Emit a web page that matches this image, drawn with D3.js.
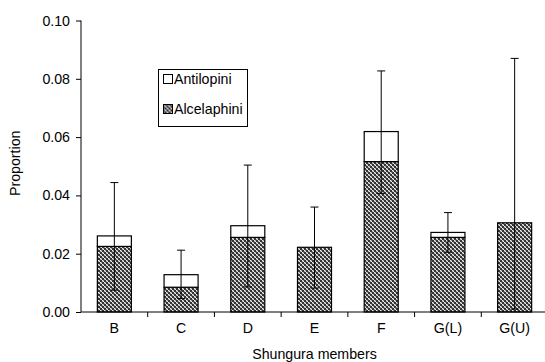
<!DOCTYPE html>
<html>
<head>
<meta charset="utf-8">
<script src="https://cdn.jsdelivr.net/npm/d3@7"></script>
<style>
  html, body { margin: 0; padding: 0; background: #fff; }
  svg { display: block; font-family: Arial, "Liberation Sans", sans-serif; }
</style>
</head>
<body>
<svg id="chart" width="545" height="362"></svg>
<script>
// Shungura members and proportions per tribe
const categories = ["B", "C", "D", "E", "F", "G(L)", "G(U)"];
const alcelaphini = [0.0225, 0.0085, 0.0256, 0.0222, 0.0516, 0.0256, 0.0306];
const antilopini = [0.0036, 0.0043, 0.0040, 0.0, 0.0103, 0.0017, 0.0];
const errUpper = [0.0444, 0.0212, 0.0504, 0.0360, 0.0827, 0.0341, 0.0870];
const errLower = [0.0075, 0.0046, 0.0086, 0.0082, 0.0407, 0.0205, 0.0010];
const yTicks = [0, 0.02, 0.04, 0.06, 0.08, 0.10];

const FS = 14.2;
const svg = d3.select("#chart");
const plotLeft = 81, plotRight = 548, plotTop = 20.5, plotBottom = 312;

const x = d3.scaleBand().domain(categories).range([plotLeft, plotRight]).paddingInner(0.49).paddingOuter(0.245);
const xb = d3.scaleBand().domain(categories).range([plotLeft, plotRight]);
const y = d3.scaleLinear().domain([0, 0.1]).range([plotBottom, plotTop]);

// hatch fill for Alcelaphini
const defs = svg.append("defs");
const pat = defs.append("pattern").attr("id", "hatch")
  .attr("patternUnits", "userSpaceOnUse").attr("width", 4).attr("height", 4);
pat.append("rect").attr("width", 4).attr("height", 4).attr("fill", "#eeeeee");
pat.append("rect").attr("x", 0).attr("y", 0).attr("width", 2).attr("height", 2).attr("fill", "#333");
pat.append("rect").attr("x", 2).attr("y", 2).attr("width", 2).attr("height", 2).attr("fill", "#333");
pat.append("path").attr("d", "M0,4 L4,0").attr("stroke", "#555").attr("stroke-width", 0.6);

const rows = categories.map((c, i) => ({
  c, alc: alcelaphini[i], ant: antilopini[i], hi: errUpper[i], lo: errLower[i]
}));

// Alcelaphini bars
svg.append("g").selectAll("rect").data(rows).join("rect")
  .attr("x", d => x(d.c)).attr("width", x.bandwidth())
  .attr("y", d => y(d.alc)).attr("height", d => y(0) - y(d.alc))
  .attr("fill", "url(#hatch)").attr("stroke", "#000").attr("stroke-width", 1.2);

// Antilopini stacked on top
svg.append("g").selectAll("rect").data(rows.filter(d => d.ant > 0)).join("rect")
  .attr("x", d => x(d.c)).attr("width", x.bandwidth())
  .attr("y", d => y(d.alc + d.ant)).attr("height", d => y(d.alc) - y(d.alc + d.ant))
  .attr("fill", "#fff").attr("stroke", "#000").attr("stroke-width", 1.2);

// Error bars
const cap = 4;
const eb = svg.append("g").attr("stroke", "#000").attr("stroke-width", 1);
rows.forEach(d => {
  const cx = x(d.c) + x.bandwidth() / 2;
  eb.append("line").attr("x1", cx).attr("x2", cx).attr("y1", y(d.hi)).attr("y2", y(d.lo));
  eb.append("line").attr("x1", cx - cap).attr("x2", cx + cap).attr("y1", y(d.hi)).attr("y2", y(d.hi));
  eb.append("line").attr("x1", cx - cap).attr("x2", cx + cap).attr("y1", y(d.lo)).attr("y2", y(d.lo));
});

// Y axis
const yAxis = d3.axisLeft(y).tickValues(yTicks).tickFormat(d3.format(".2f")).tickSize(5).tickPadding(6);
const gy = svg.append("g").attr("transform", `translate(${plotLeft},0)`).call(yAxis);
gy.select(".domain").attr("d", `M0,${plotTop}V${plotBottom}`);
gy.selectAll("text").attr("font-size", FS).attr("font-family", "Arial, 'Liberation Sans', sans-serif").attr("fill", "#000");
gy.selectAll("line, path").attr("stroke", "#000");

// X axis: ticks at band boundaries, labels at band centres
const gx = svg.append("g").attr("transform", `translate(0,${plotBottom})`);
gx.append("line").attr("x1", plotLeft).attr("x2", plotRight).attr("stroke", "#000");
gx.selectAll("line.tk").data(categories.slice(1)).join("line").attr("class", "tk")
  .attr("x1", d => xb(d)).attr("x2", d => xb(d)).attr("y1", 0).attr("y2", 5).attr("stroke", "#000");
gx.selectAll("text").data(categories).join("text")
  .attr("x", d => xb(d) + xb.bandwidth() / 2).attr("y", 20.5)
  .attr("text-anchor", "middle").attr("font-size", FS).text(d => d);

// Axis titles
svg.append("text").attr("x", (plotLeft + plotRight) / 2).attr("y", 359)
  .attr("text-anchor", "middle").attr("font-size", FS).text("Shungura members");
svg.append("text").attr("transform", `translate(20,${(plotTop + plotBottom) / 2 - 3}) rotate(-90)`)
  .attr("text-anchor", "middle").attr("font-size", FS).text("Proportion");

// Legend
const lg = svg.append("g").attr("transform", "translate(158.5,69.5)");
lg.append("rect").attr("width", 89).attr("height", 57).attr("fill", "#fff").attr("stroke", "#000").attr("stroke-width", 1);
const items = [{ label: "Antilopini", fill: "#fff" }, { label: "Alcelaphini", fill: "url(#hatch)" }];
items.forEach((it, i) => {
  const cy = 9.5 + i * 30;
  lg.append("rect").attr("x", 5).attr("y", cy - 4.5).attr("width", 9).attr("height", 9)
    .attr("fill", it.fill).attr("stroke", "#000").attr("stroke-width", 1);
  lg.append("text").attr("x", 15.5).attr("y", cy).attr("dy", "0.36em").attr("font-size", FS).text(it.label);
});
</script>
</body>
</html>
